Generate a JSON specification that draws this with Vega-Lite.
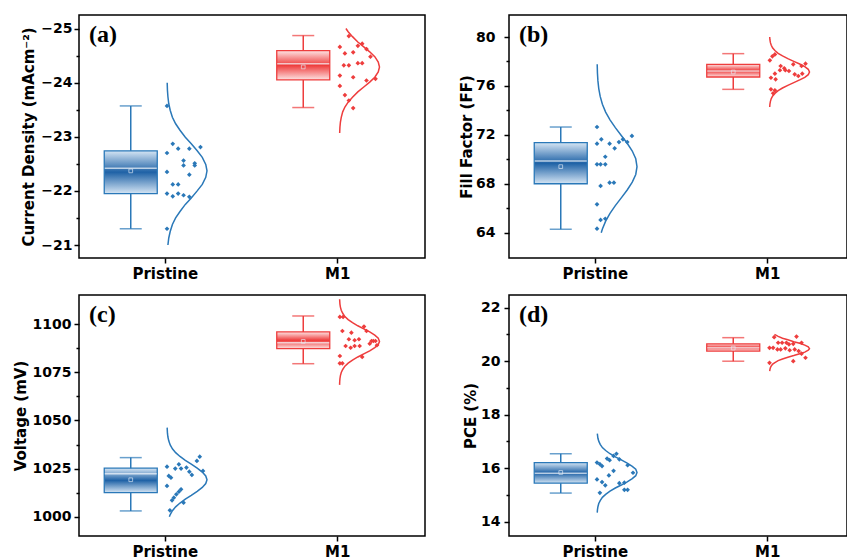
{
  "$schema": "https://vega.github.io/schema/vega-lite/v6.json",
  "padding": {"left": 12, "top": 14, "right": 0, "bottom": 0},
  "columns": 2,
  "bounds": "flush",
  "spacing": {"row": 37, "column": 84},
  "config": {
    "font": "DejaVu Sans",
    "view": {"stroke": "black", "strokeWidth": 1.5},
    "axis": {
      "domain": false, "grid": false,
      "labelFont": "DejaVu Sans", "labelFontWeight": "bold", "labelColor": "black",
      "titleFont": "DejaVu Sans", "titleFontWeight": "bold", "titleColor": "black", "titleFontSize": 15,
      "tickColor": "black", "tickWidth": 1.5
    },
    "axisX": {"labelFontSize": 15, "tickSize": 5, "labelPadding": 3, "labelAngle": 0, "title": null},
    "axisY": {"labelFontSize": 14, "labelPadding": 2, "titlePadding": 4, "format": "d"},
    "title": {"font": "Liberation Serif", "fontSize": 24, "fontWeight": "bold", "color": "black", "anchor": "start", "frame": "group", "baseline": "alphabetic", "offset": -32, "dx": 10},
    "line": {"strokeWidth": 1.5},
    "legend": {"disable": true}
  },
  "datasets": {
    "stats": [
      {"panel": "a", "group": "Pristine", "part": "whisker", "v": -23.57, "v2": -21.30},
      {"panel": "a", "group": "Pristine", "part": "cap", "v": -23.57},
      {"panel": "a", "group": "Pristine", "part": "cap", "v": -21.30},
      {"panel": "a", "group": "Pristine", "part": "box", "v": -22.74, "v2": -21.95},
      {"panel": "a", "group": "Pristine", "part": "median", "v": -22.42},
      {"panel": "a", "group": "Pristine", "part": "mean", "v": -22.37},
      {"panel": "a", "group": "M1", "part": "whisker", "v": -24.87, "v2": -23.54},
      {"panel": "a", "group": "M1", "part": "cap", "v": -24.87},
      {"panel": "a", "group": "M1", "part": "cap", "v": -23.54},
      {"panel": "a", "group": "M1", "part": "box", "v": -24.59, "v2": -24.05},
      {"panel": "a", "group": "M1", "part": "median", "v": -24.35},
      {"panel": "a", "group": "M1", "part": "mean", "v": -24.29},
      {"panel": "b", "group": "Pristine", "part": "whisker", "v": 72.64, "v2": 64.28},
      {"panel": "b", "group": "Pristine", "part": "cap", "v": 72.64},
      {"panel": "b", "group": "Pristine", "part": "cap", "v": 64.28},
      {"panel": "b", "group": "Pristine", "part": "box", "v": 71.36, "v2": 68.0},
      {"panel": "b", "group": "Pristine", "part": "median", "v": 69.86},
      {"panel": "b", "group": "Pristine", "part": "mean", "v": 69.4},
      {"panel": "b", "group": "M1", "part": "whisker", "v": 78.64, "v2": 75.72},
      {"panel": "b", "group": "M1", "part": "cap", "v": 78.64},
      {"panel": "b", "group": "M1", "part": "cap", "v": 75.72},
      {"panel": "b", "group": "M1", "part": "box", "v": 77.77, "v2": 76.73},
      {"panel": "b", "group": "M1", "part": "median", "v": 77.22},
      {"panel": "b", "group": "M1", "part": "mean", "v": 77.14},
      {"panel": "c", "group": "Pristine", "part": "whisker", "v": 1030.7, "v2": 1003.0},
      {"panel": "c", "group": "Pristine", "part": "cap", "v": 1030.7},
      {"panel": "c", "group": "Pristine", "part": "cap", "v": 1003.0},
      {"panel": "c", "group": "Pristine", "part": "box", "v": 1025.2, "v2": 1012.5},
      {"panel": "c", "group": "Pristine", "part": "median", "v": 1022.3},
      {"panel": "c", "group": "Pristine", "part": "mean", "v": 1019.2},
      {"panel": "c", "group": "M1", "part": "whisker", "v": 1104.3, "v2": 1079.5},
      {"panel": "c", "group": "M1", "part": "cap", "v": 1104.3},
      {"panel": "c", "group": "M1", "part": "cap", "v": 1079.5},
      {"panel": "c", "group": "M1", "part": "box", "v": 1096.0, "v2": 1087.3},
      {"panel": "c", "group": "M1", "part": "median", "v": 1090.4},
      {"panel": "c", "group": "M1", "part": "mean", "v": 1091.1},
      {"panel": "d", "group": "Pristine", "part": "whisker", "v": 16.54, "v2": 15.07},
      {"panel": "d", "group": "Pristine", "part": "cap", "v": 16.54},
      {"panel": "d", "group": "Pristine", "part": "cap", "v": 15.07},
      {"panel": "d", "group": "Pristine", "part": "box", "v": 16.21, "v2": 15.44},
      {"panel": "d", "group": "Pristine", "part": "median", "v": 15.81},
      {"panel": "d", "group": "Pristine", "part": "mean", "v": 15.84},
      {"panel": "d", "group": "M1", "part": "whisker", "v": 20.88, "v2": 20.0},
      {"panel": "d", "group": "M1", "part": "cap", "v": 20.88},
      {"panel": "d", "group": "M1", "part": "cap", "v": 20.0},
      {"panel": "d", "group": "M1", "part": "box", "v": 20.65, "v2": 20.38},
      {"panel": "d", "group": "M1", "part": "median", "v": 20.50},
      {"panel": "d", "group": "M1", "part": "mean", "v": 20.49}
    ],
    "pts": [
      {"panel": "a", "group": "Pristine", "v": -23.57, "jit": 0},
      {"panel": "a", "group": "Pristine", "v": -22.87, "jit": 0.16},
      {"panel": "a", "group": "Pristine", "v": -22.70, "jit": 0},
      {"panel": "a", "group": "Pristine", "v": -22.78, "jit": 0.31},
      {"panel": "a", "group": "Pristine", "v": -22.78, "jit": 0.62},
      {"panel": "a", "group": "Pristine", "v": -22.81, "jit": 0.93},
      {"panel": "a", "group": "Pristine", "v": -22.56, "jit": 0.46},
      {"panel": "a", "group": "Pristine", "v": -22.47, "jit": 0.46},
      {"panel": "a", "group": "Pristine", "v": -22.51, "jit": 0.77},
      {"panel": "a", "group": "Pristine", "v": -22.47, "jit": 0.77},
      {"panel": "a", "group": "Pristine", "v": -22.35, "jit": 0},
      {"panel": "a", "group": "Pristine", "v": -22.30, "jit": 0.62},
      {"panel": "a", "group": "Pristine", "v": -22.12, "jit": 0.16},
      {"panel": "a", "group": "Pristine", "v": -22.12, "jit": 0.31},
      {"panel": "a", "group": "Pristine", "v": -21.95, "jit": 0},
      {"panel": "a", "group": "Pristine", "v": -21.90, "jit": 0.16},
      {"panel": "a", "group": "Pristine", "v": -21.95, "jit": 0.31},
      {"panel": "a", "group": "Pristine", "v": -21.92, "jit": 0.46},
      {"panel": "a", "group": "Pristine", "v": -21.89, "jit": 0.62},
      {"panel": "a", "group": "Pristine", "v": -21.30, "jit": 0},
      {"panel": "a", "group": "M1", "v": -24.86, "jit": 0.26},
      {"panel": "a", "group": "M1", "v": -24.66, "jit": 0.01},
      {"panel": "a", "group": "M1", "v": -24.68, "jit": 0.51},
      {"panel": "a", "group": "M1", "v": -24.72, "jit": 0.63},
      {"panel": "a", "group": "M1", "v": -24.62, "jit": 0.75},
      {"panel": "a", "group": "M1", "v": -24.54, "jit": 0.15},
      {"panel": "a", "group": "M1", "v": -24.56, "jit": 0.38},
      {"panel": "a", "group": "M1", "v": -24.48, "jit": 0.86},
      {"panel": "a", "group": "M1", "v": -24.32, "jit": 0.12},
      {"panel": "a", "group": "M1", "v": -24.32, "jit": 0.26},
      {"panel": "a", "group": "M1", "v": -24.36, "jit": 0.51},
      {"panel": "a", "group": "M1", "v": -24.36, "jit": 0.63},
      {"panel": "a", "group": "M1", "v": -24.13, "jit": 0.01},
      {"panel": "a", "group": "M1", "v": -24.10, "jit": 0.38},
      {"panel": "a", "group": "M1", "v": -24.04, "jit": 0.75},
      {"panel": "a", "group": "M1", "v": -24.07, "jit": 1.0},
      {"panel": "a", "group": "M1", "v": -23.94, "jit": 0.01},
      {"panel": "a", "group": "M1", "v": -23.77, "jit": 0.15},
      {"panel": "a", "group": "M1", "v": -23.67, "jit": 0.26},
      {"panel": "a", "group": "M1", "v": -23.53, "jit": 0.38},
      {"panel": "b", "group": "Pristine", "v": 72.64, "jit": 0},
      {"panel": "b", "group": "Pristine", "v": 71.28, "jit": 0},
      {"panel": "b", "group": "Pristine", "v": 71.63, "jit": 0.12},
      {"panel": "b", "group": "Pristine", "v": 71.28, "jit": 0.35},
      {"panel": "b", "group": "Pristine", "v": 70.90, "jit": 0.49},
      {"panel": "b", "group": "Pristine", "v": 71.41, "jit": 0.61},
      {"panel": "b", "group": "Pristine", "v": 71.63, "jit": 0.72},
      {"panel": "b", "group": "Pristine", "v": 71.41, "jit": 0.84},
      {"panel": "b", "group": "Pristine", "v": 71.91, "jit": 0.97},
      {"panel": "b", "group": "Pristine", "v": 70.21, "jit": 0.23},
      {"panel": "b", "group": "Pristine", "v": 69.59, "jit": 0},
      {"panel": "b", "group": "Pristine", "v": 69.59, "jit": 0.10},
      {"panel": "b", "group": "Pristine", "v": 69.59, "jit": 0.23},
      {"panel": "b", "group": "Pristine", "v": 68.09, "jit": 0.35},
      {"panel": "b", "group": "Pristine", "v": 68.09, "jit": 0.47},
      {"panel": "b", "group": "Pristine", "v": 67.82, "jit": 0.10},
      {"panel": "b", "group": "Pristine", "v": 66.32, "jit": 0},
      {"panel": "b", "group": "Pristine", "v": 65.04, "jit": 0.10},
      {"panel": "b", "group": "Pristine", "v": 65.14, "jit": 0.23},
      {"panel": "b", "group": "Pristine", "v": 64.33, "jit": 0},
      {"panel": "b", "group": "M1", "v": 78.58, "jit": 0.15},
      {"panel": "b", "group": "M1", "v": 78.42, "jit": 0.08},
      {"panel": "b", "group": "M1", "v": 78.09, "jit": 0.01},
      {"panel": "b", "group": "M1", "v": 77.77, "jit": 0.66},
      {"panel": "b", "group": "M1", "v": 77.63, "jit": 0.89},
      {"panel": "b", "group": "M1", "v": 77.82, "jit": 1.0},
      {"panel": "b", "group": "M1", "v": 77.63, "jit": 0.31},
      {"panel": "b", "group": "M1", "v": 77.44, "jit": 0.41},
      {"panel": "b", "group": "M1", "v": 77.28, "jit": 0.29},
      {"panel": "b", "group": "M1", "v": 77.28, "jit": 0.44},
      {"panel": "b", "group": "M1", "v": 77.22, "jit": 0.54},
      {"panel": "b", "group": "M1", "v": 77.00, "jit": 0.15},
      {"panel": "b", "group": "M1", "v": 76.67, "jit": 0.04},
      {"panel": "b", "group": "M1", "v": 76.54, "jit": 0.17},
      {"panel": "b", "group": "M1", "v": 76.95, "jit": 0.70},
      {"panel": "b", "group": "M1", "v": 76.81, "jit": 0.80},
      {"panel": "b", "group": "M1", "v": 77.00, "jit": 0.91},
      {"panel": "b", "group": "M1", "v": 75.72, "jit": 0.04},
      {"panel": "b", "group": "M1", "v": 75.64, "jit": 0.15},
      {"panel": "b", "group": "M1", "v": 75.40, "jit": 0.10},
      {"panel": "c", "group": "Pristine", "v": 1031.2, "jit": 0.91},
      {"panel": "c", "group": "Pristine", "v": 1029.0, "jit": 0.83},
      {"panel": "c", "group": "Pristine", "v": 1027.2, "jit": 0.33},
      {"panel": "c", "group": "Pristine", "v": 1026.0, "jit": 0},
      {"panel": "c", "group": "Pristine", "v": 1025.0, "jit": 0.23},
      {"panel": "c", "group": "Pristine", "v": 1025.0, "jit": 0.39},
      {"panel": "c", "group": "Pristine", "v": 1025.5, "jit": 0.54},
      {"panel": "c", "group": "Pristine", "v": 1023.4, "jit": 0.62},
      {"panel": "c", "group": "Pristine", "v": 1021.7, "jit": 0.69},
      {"panel": "c", "group": "Pristine", "v": 1023.8, "jit": 1.0},
      {"panel": "c", "group": "Pristine", "v": 1021.2, "jit": 0.05},
      {"panel": "c", "group": "Pristine", "v": 1020.3, "jit": 0.11},
      {"panel": "c", "group": "Pristine", "v": 1016.0, "jit": 0},
      {"panel": "c", "group": "Pristine", "v": 1014.2, "jit": 0.39},
      {"panel": "c", "group": "Pristine", "v": 1013.0, "jit": 0.33},
      {"panel": "c", "group": "Pristine", "v": 1011.6, "jit": 0.26},
      {"panel": "c", "group": "Pristine", "v": 1009.9, "jit": 0.19},
      {"panel": "c", "group": "Pristine", "v": 1008.5, "jit": 0.14},
      {"panel": "c", "group": "Pristine", "v": 1007.3, "jit": 0.46},
      {"panel": "c", "group": "Pristine", "v": 1003.3, "jit": 0.08},
      {"panel": "c", "group": "M1", "v": 1103.8, "jit": 0.01},
      {"panel": "c", "group": "M1", "v": 1103.8, "jit": 0.10},
      {"panel": "c", "group": "M1", "v": 1096.5, "jit": 0.08},
      {"panel": "c", "group": "M1", "v": 1095.6, "jit": 0.33},
      {"panel": "c", "group": "M1", "v": 1098.8, "jit": 0.68},
      {"panel": "c", "group": "M1", "v": 1096.5, "jit": 0.75},
      {"panel": "c", "group": "M1", "v": 1092.2, "jit": 0.26},
      {"panel": "c", "group": "M1", "v": 1091.7, "jit": 0.42},
      {"panel": "c", "group": "M1", "v": 1092.2, "jit": 0.54},
      {"panel": "c", "group": "M1", "v": 1091.3, "jit": 0.89},
      {"panel": "c", "group": "M1", "v": 1091.3, "jit": 0.94},
      {"panel": "c", "group": "M1", "v": 1091.3, "jit": 1.0},
      {"panel": "c", "group": "M1", "v": 1089.9, "jit": 0.84},
      {"panel": "c", "group": "M1", "v": 1088.7, "jit": 0.17},
      {"panel": "c", "group": "M1", "v": 1087.8, "jit": 0.31},
      {"panel": "c", "group": "M1", "v": 1088.7, "jit": 0.42},
      {"panel": "c", "group": "M1", "v": 1088.7, "jit": 0.56},
      {"panel": "c", "group": "M1", "v": 1089.1, "jit": 1.04},
      {"panel": "c", "group": "M1", "v": 1083.5, "jit": 0.01},
      {"panel": "c", "group": "M1", "v": 1083.0, "jit": 0.63},
      {"panel": "c", "group": "M1", "v": 1079.7, "jit": 0.01},
      {"panel": "c", "group": "M1", "v": 1079.7, "jit": 0.08},
      {"panel": "d", "group": "Pristine", "v": 16.54, "jit": 0.54},
      {"panel": "d", "group": "Pristine", "v": 16.46, "jit": 0.46},
      {"panel": "d", "group": "Pristine", "v": 16.36, "jit": 0.28},
      {"panel": "d", "group": "Pristine", "v": 16.30, "jit": 0.35},
      {"panel": "d", "group": "Pristine", "v": 16.21, "jit": 0},
      {"panel": "d", "group": "Pristine", "v": 16.15, "jit": 0.08},
      {"panel": "d", "group": "Pristine", "v": 16.08, "jit": 0.14},
      {"panel": "d", "group": "Pristine", "v": 16.33, "jit": 0.62},
      {"panel": "d", "group": "Pristine", "v": 16.11, "jit": 0.85},
      {"panel": "d", "group": "Pristine", "v": 15.90, "jit": 0.46},
      {"panel": "d", "group": "Pristine", "v": 15.83, "jit": 1.0},
      {"panel": "d", "group": "Pristine", "v": 15.73, "jit": 0.33},
      {"panel": "d", "group": "Pristine", "v": 15.58, "jit": 0},
      {"panel": "d", "group": "Pristine", "v": 15.48, "jit": 0.14},
      {"panel": "d", "group": "Pristine", "v": 15.36, "jit": 0.23},
      {"panel": "d", "group": "Pristine", "v": 15.44, "jit": 0.62},
      {"panel": "d", "group": "Pristine", "v": 15.46, "jit": 0.76},
      {"panel": "d", "group": "Pristine", "v": 15.08, "jit": 0.08},
      {"panel": "d", "group": "Pristine", "v": 15.19, "jit": 0.76},
      {"panel": "d", "group": "Pristine", "v": 15.19, "jit": 0.85},
      {"panel": "d", "group": "M1", "v": 20.90, "jit": 0.13},
      {"panel": "d", "group": "M1", "v": 20.92, "jit": 0.75},
      {"panel": "d", "group": "M1", "v": 20.69, "jit": 0.24},
      {"panel": "d", "group": "M1", "v": 20.69, "jit": 0.35},
      {"panel": "d", "group": "M1", "v": 20.69, "jit": 0.47},
      {"panel": "d", "group": "M1", "v": 20.63, "jit": 0.54},
      {"panel": "d", "group": "M1", "v": 20.65, "jit": 0.66},
      {"panel": "d", "group": "M1", "v": 20.69, "jit": 0.89},
      {"panel": "d", "group": "M1", "v": 20.50, "jit": 0},
      {"panel": "d", "group": "M1", "v": 20.50, "jit": 0.10},
      {"panel": "d", "group": "M1", "v": 20.44, "jit": 0.22},
      {"panel": "d", "group": "M1", "v": 20.44, "jit": 0.31},
      {"panel": "d", "group": "M1", "v": 20.48, "jit": 0.44},
      {"panel": "d", "group": "M1", "v": 20.41, "jit": 0.56},
      {"panel": "d", "group": "M1", "v": 20.44, "jit": 0.70},
      {"panel": "d", "group": "M1", "v": 20.38, "jit": 0.81},
      {"panel": "d", "group": "M1", "v": 20.28, "jit": 0.89},
      {"panel": "d", "group": "M1", "v": 20.13, "jit": 1.0},
      {"panel": "d", "group": "M1", "v": 19.94, "jit": 0},
      {"panel": "d", "group": "M1", "v": 20.00, "jit": 0.66}
    ],
    "curve": [
      {"panel": "a", "group": "Pristine", "v": -24.0, "d": 0.005},
      {"panel": "a", "group": "Pristine", "v": -23.86, "d": 0.011},
      {"panel": "a", "group": "Pristine", "v": -23.74, "d": 0.023},
      {"panel": "a", "group": "Pristine", "v": -23.61, "d": 0.044},
      {"panel": "a", "group": "Pristine", "v": -23.49, "d": 0.080},
      {"panel": "a", "group": "Pristine", "v": -23.36, "d": 0.135},
      {"panel": "a", "group": "Pristine", "v": -23.24, "d": 0.216},
      {"panel": "a", "group": "Pristine", "v": -23.12, "d": 0.325},
      {"panel": "a", "group": "Pristine", "v": -22.99, "d": 0.458},
      {"panel": "a", "group": "Pristine", "v": -22.87, "d": 0.607},
      {"panel": "a", "group": "Pristine", "v": -22.74, "d": 0.755},
      {"panel": "a", "group": "Pristine", "v": -22.62, "d": 0.882},
      {"panel": "a", "group": "Pristine", "v": -22.49, "d": 0.969},
      {"panel": "a", "group": "Pristine", "v": -22.37, "d": 1.0},
      {"panel": "a", "group": "Pristine", "v": -22.25, "d": 0.969},
      {"panel": "a", "group": "Pristine", "v": -22.12, "d": 0.882},
      {"panel": "a", "group": "Pristine", "v": -22.00, "d": 0.755},
      {"panel": "a", "group": "Pristine", "v": -21.87, "d": 0.607},
      {"panel": "a", "group": "Pristine", "v": -21.75, "d": 0.458},
      {"panel": "a", "group": "Pristine", "v": -21.62, "d": 0.325},
      {"panel": "a", "group": "Pristine", "v": -21.50, "d": 0.216},
      {"panel": "a", "group": "Pristine", "v": -21.38, "d": 0.135},
      {"panel": "a", "group": "Pristine", "v": -21.25, "d": 0.080},
      {"panel": "a", "group": "Pristine", "v": -21.13, "d": 0.044},
      {"panel": "a", "group": "Pristine", "v": -21.0, "d": 0.023},
      {"panel": "a", "group": "M1", "v": -25.0, "d": 0.161},
      {"panel": "a", "group": "M1", "v": -24.94, "d": 0.216},
      {"panel": "a", "group": "M1", "v": -24.85, "d": 0.325},
      {"panel": "a", "group": "M1", "v": -24.75, "d": 0.458},
      {"panel": "a", "group": "M1", "v": -24.66, "d": 0.607},
      {"panel": "a", "group": "M1", "v": -24.57, "d": 0.755},
      {"panel": "a", "group": "M1", "v": -24.48, "d": 0.882},
      {"panel": "a", "group": "M1", "v": -24.38, "d": 0.969},
      {"panel": "a", "group": "M1", "v": -24.29, "d": 1.0},
      {"panel": "a", "group": "M1", "v": -24.20, "d": 0.969},
      {"panel": "a", "group": "M1", "v": -24.10, "d": 0.882},
      {"panel": "a", "group": "M1", "v": -24.01, "d": 0.755},
      {"panel": "a", "group": "M1", "v": -23.92, "d": 0.607},
      {"panel": "a", "group": "M1", "v": -23.83, "d": 0.458},
      {"panel": "a", "group": "M1", "v": -23.73, "d": 0.325},
      {"panel": "a", "group": "M1", "v": -23.64, "d": 0.216},
      {"panel": "a", "group": "M1", "v": -23.55, "d": 0.135},
      {"panel": "a", "group": "M1", "v": -23.46, "d": 0.080},
      {"panel": "a", "group": "M1", "v": -23.36, "d": 0.044},
      {"panel": "a", "group": "M1", "v": -23.27, "d": 0.023},
      {"panel": "a", "group": "M1", "v": -23.18, "d": 0.011},
      {"panel": "a", "group": "M1", "v": -23.07, "d": 0.004},
      {"panel": "b", "group": "Pristine", "v": 64.0, "d": 0.106},
      {"panel": "b", "group": "Pristine", "v": 64.3, "d": 0.135},
      {"panel": "b", "group": "Pristine", "v": 64.94, "d": 0.216},
      {"panel": "b", "group": "Pristine", "v": 65.58, "d": 0.325},
      {"panel": "b", "group": "Pristine", "v": 66.21, "d": 0.458},
      {"panel": "b", "group": "Pristine", "v": 66.85, "d": 0.607},
      {"panel": "b", "group": "Pristine", "v": 67.49, "d": 0.755},
      {"panel": "b", "group": "Pristine", "v": 68.13, "d": 0.882},
      {"panel": "b", "group": "Pristine", "v": 68.76, "d": 0.969},
      {"panel": "b", "group": "Pristine", "v": 69.4, "d": 1.0},
      {"panel": "b", "group": "Pristine", "v": 70.04, "d": 0.969},
      {"panel": "b", "group": "Pristine", "v": 70.68, "d": 0.882},
      {"panel": "b", "group": "Pristine", "v": 71.31, "d": 0.755},
      {"panel": "b", "group": "Pristine", "v": 71.95, "d": 0.607},
      {"panel": "b", "group": "Pristine", "v": 72.59, "d": 0.458},
      {"panel": "b", "group": "Pristine", "v": 73.23, "d": 0.325},
      {"panel": "b", "group": "Pristine", "v": 73.86, "d": 0.216},
      {"panel": "b", "group": "Pristine", "v": 74.5, "d": 0.135},
      {"panel": "b", "group": "Pristine", "v": 75.14, "d": 0.080},
      {"panel": "b", "group": "Pristine", "v": 75.78, "d": 0.044},
      {"panel": "b", "group": "Pristine", "v": 76.41, "d": 0.023},
      {"panel": "b", "group": "Pristine", "v": 77.05, "d": 0.011},
      {"panel": "b", "group": "Pristine", "v": 77.77, "d": 0.005},
      {"panel": "b", "group": "M1", "v": 74.28, "d": 0.005},
      {"panel": "b", "group": "M1", "v": 74.52, "d": 0.011},
      {"panel": "b", "group": "M1", "v": 74.74, "d": 0.023},
      {"panel": "b", "group": "M1", "v": 74.96, "d": 0.044},
      {"panel": "b", "group": "M1", "v": 75.18, "d": 0.080},
      {"panel": "b", "group": "M1", "v": 75.39, "d": 0.135},
      {"panel": "b", "group": "M1", "v": 75.61, "d": 0.216},
      {"panel": "b", "group": "M1", "v": 75.83, "d": 0.325},
      {"panel": "b", "group": "M1", "v": 76.05, "d": 0.458},
      {"panel": "b", "group": "M1", "v": 76.27, "d": 0.607},
      {"panel": "b", "group": "M1", "v": 76.49, "d": 0.755},
      {"panel": "b", "group": "M1", "v": 76.70, "d": 0.882},
      {"panel": "b", "group": "M1", "v": 76.92, "d": 0.969},
      {"panel": "b", "group": "M1", "v": 77.14, "d": 1.0},
      {"panel": "b", "group": "M1", "v": 77.36, "d": 0.969},
      {"panel": "b", "group": "M1", "v": 77.58, "d": 0.882},
      {"panel": "b", "group": "M1", "v": 77.79, "d": 0.755},
      {"panel": "b", "group": "M1", "v": 78.01, "d": 0.607},
      {"panel": "b", "group": "M1", "v": 78.23, "d": 0.458},
      {"panel": "b", "group": "M1", "v": 78.45, "d": 0.325},
      {"panel": "b", "group": "M1", "v": 78.67, "d": 0.216},
      {"panel": "b", "group": "M1", "v": 78.89, "d": 0.135},
      {"panel": "b", "group": "M1", "v": 79.10, "d": 0.080},
      {"panel": "b", "group": "M1", "v": 79.32, "d": 0.044},
      {"panel": "b", "group": "M1", "v": 79.54, "d": 0.023},
      {"panel": "b", "group": "M1", "v": 79.76, "d": 0.011},
      {"panel": "b", "group": "M1", "v": 80.0, "d": 0.005},
      {"panel": "c", "group": "Pristine", "v": 1000.0, "d": 0.059},
      {"panel": "c", "group": "Pristine", "v": 1001.1, "d": 0.080},
      {"panel": "c", "group": "Pristine", "v": 1003.1, "d": 0.135},
      {"panel": "c", "group": "Pristine", "v": 1005.1, "d": 0.216},
      {"panel": "c", "group": "Pristine", "v": 1007.1, "d": 0.325},
      {"panel": "c", "group": "Pristine", "v": 1009.1, "d": 0.458},
      {"panel": "c", "group": "Pristine", "v": 1011.1, "d": 0.607},
      {"panel": "c", "group": "Pristine", "v": 1013.2, "d": 0.755},
      {"panel": "c", "group": "Pristine", "v": 1015.2, "d": 0.882},
      {"panel": "c", "group": "Pristine", "v": 1017.2, "d": 0.969},
      {"panel": "c", "group": "Pristine", "v": 1019.2, "d": 1.0},
      {"panel": "c", "group": "Pristine", "v": 1021.2, "d": 0.969},
      {"panel": "c", "group": "Pristine", "v": 1023.2, "d": 0.882},
      {"panel": "c", "group": "Pristine", "v": 1025.2, "d": 0.755},
      {"panel": "c", "group": "Pristine", "v": 1027.3, "d": 0.607},
      {"panel": "c", "group": "Pristine", "v": 1029.3, "d": 0.458},
      {"panel": "c", "group": "Pristine", "v": 1031.3, "d": 0.325},
      {"panel": "c", "group": "Pristine", "v": 1033.3, "d": 0.216},
      {"panel": "c", "group": "Pristine", "v": 1035.3, "d": 0.135},
      {"panel": "c", "group": "Pristine", "v": 1037.3, "d": 0.080},
      {"panel": "c", "group": "Pristine", "v": 1039.4, "d": 0.044},
      {"panel": "c", "group": "Pristine", "v": 1041.4, "d": 0.023},
      {"panel": "c", "group": "Pristine", "v": 1043.4, "d": 0.011},
      {"panel": "c", "group": "Pristine", "v": 1046.3, "d": 0.004},
      {"panel": "c", "group": "M1", "v": 1068.5, "d": 0.002},
      {"panel": "c", "group": "M1", "v": 1070.1, "d": 0.005},
      {"panel": "c", "group": "M1", "v": 1071.7, "d": 0.011},
      {"panel": "c", "group": "M1", "v": 1073.3, "d": 0.023},
      {"panel": "c", "group": "M1", "v": 1074.9, "d": 0.044},
      {"panel": "c", "group": "M1", "v": 1076.5, "d": 0.080},
      {"panel": "c", "group": "M1", "v": 1078.2, "d": 0.135},
      {"panel": "c", "group": "M1", "v": 1079.8, "d": 0.216},
      {"panel": "c", "group": "M1", "v": 1081.4, "d": 0.325},
      {"panel": "c", "group": "M1", "v": 1083.0, "d": 0.458},
      {"panel": "c", "group": "M1", "v": 1084.6, "d": 0.607},
      {"panel": "c", "group": "M1", "v": 1086.2, "d": 0.755},
      {"panel": "c", "group": "M1", "v": 1087.9, "d": 0.882},
      {"panel": "c", "group": "M1", "v": 1089.5, "d": 0.969},
      {"panel": "c", "group": "M1", "v": 1091.1, "d": 1.0},
      {"panel": "c", "group": "M1", "v": 1092.7, "d": 0.969},
      {"panel": "c", "group": "M1", "v": 1094.3, "d": 0.882},
      {"panel": "c", "group": "M1", "v": 1096.0, "d": 0.755},
      {"panel": "c", "group": "M1", "v": 1097.6, "d": 0.607},
      {"panel": "c", "group": "M1", "v": 1099.2, "d": 0.458},
      {"panel": "c", "group": "M1", "v": 1100.8, "d": 0.325},
      {"panel": "c", "group": "M1", "v": 1102.4, "d": 0.216},
      {"panel": "c", "group": "M1", "v": 1104.0, "d": 0.135},
      {"panel": "c", "group": "M1", "v": 1105.7, "d": 0.080},
      {"panel": "c", "group": "M1", "v": 1107.3, "d": 0.044},
      {"panel": "c", "group": "M1", "v": 1108.9, "d": 0.023},
      {"panel": "c", "group": "M1", "v": 1110.5, "d": 0.011},
      {"panel": "c", "group": "M1", "v": 1113.0, "d": 0.003},
      {"panel": "d", "group": "Pristine", "v": 14.34, "d": 0.006},
      {"panel": "d", "group": "Pristine", "v": 14.44, "d": 0.011},
      {"panel": "d", "group": "Pristine", "v": 14.56, "d": 0.023},
      {"panel": "d", "group": "Pristine", "v": 14.68, "d": 0.044},
      {"panel": "d", "group": "Pristine", "v": 14.79, "d": 0.080},
      {"panel": "d", "group": "Pristine", "v": 14.91, "d": 0.135},
      {"panel": "d", "group": "Pristine", "v": 15.02, "d": 0.216},
      {"panel": "d", "group": "Pristine", "v": 15.14, "d": 0.325},
      {"panel": "d", "group": "Pristine", "v": 15.26, "d": 0.458},
      {"panel": "d", "group": "Pristine", "v": 15.37, "d": 0.607},
      {"panel": "d", "group": "Pristine", "v": 15.49, "d": 0.755},
      {"panel": "d", "group": "Pristine", "v": 15.61, "d": 0.882},
      {"panel": "d", "group": "Pristine", "v": 15.72, "d": 0.969},
      {"panel": "d", "group": "Pristine", "v": 15.84, "d": 1.0},
      {"panel": "d", "group": "Pristine", "v": 15.96, "d": 0.969},
      {"panel": "d", "group": "Pristine", "v": 16.07, "d": 0.882},
      {"panel": "d", "group": "Pristine", "v": 16.19, "d": 0.755},
      {"panel": "d", "group": "Pristine", "v": 16.31, "d": 0.607},
      {"panel": "d", "group": "Pristine", "v": 16.42, "d": 0.458},
      {"panel": "d", "group": "Pristine", "v": 16.54, "d": 0.325},
      {"panel": "d", "group": "Pristine", "v": 16.66, "d": 0.216},
      {"panel": "d", "group": "Pristine", "v": 16.77, "d": 0.135},
      {"panel": "d", "group": "Pristine", "v": 16.89, "d": 0.080},
      {"panel": "d", "group": "Pristine", "v": 17.01, "d": 0.044},
      {"panel": "d", "group": "Pristine", "v": 17.12, "d": 0.023},
      {"panel": "d", "group": "Pristine", "v": 17.29, "d": 0.008},
      {"panel": "d", "group": "M1", "v": 19.63, "d": 0.005},
      {"panel": "d", "group": "M1", "v": 19.69, "d": 0.011},
      {"panel": "d", "group": "M1", "v": 19.76, "d": 0.023},
      {"panel": "d", "group": "M1", "v": 19.82, "d": 0.044},
      {"panel": "d", "group": "M1", "v": 19.89, "d": 0.080},
      {"panel": "d", "group": "M1", "v": 19.95, "d": 0.135},
      {"panel": "d", "group": "M1", "v": 20.02, "d": 0.216},
      {"panel": "d", "group": "M1", "v": 20.08, "d": 0.325},
      {"panel": "d", "group": "M1", "v": 20.15, "d": 0.458},
      {"panel": "d", "group": "M1", "v": 20.21, "d": 0.607},
      {"panel": "d", "group": "M1", "v": 20.28, "d": 0.755},
      {"panel": "d", "group": "M1", "v": 20.34, "d": 0.882},
      {"panel": "d", "group": "M1", "v": 20.41, "d": 0.969},
      {"panel": "d", "group": "M1", "v": 20.47, "d": 1.0},
      {"panel": "d", "group": "M1", "v": 20.54, "d": 0.969},
      {"panel": "d", "group": "M1", "v": 20.60, "d": 0.882},
      {"panel": "d", "group": "M1", "v": 20.67, "d": 0.755},
      {"panel": "d", "group": "M1", "v": 20.73, "d": 0.607},
      {"panel": "d", "group": "M1", "v": 20.80, "d": 0.458},
      {"panel": "d", "group": "M1", "v": 20.86, "d": 0.325},
      {"panel": "d", "group": "M1", "v": 20.93, "d": 0.216},
      {"panel": "d", "group": "M1", "v": 21.0, "d": 0.125}
    ]
  },
  "concat": [
    {
      "width": 346, "height": 243,
      "title": {"text": "(a)"},
      "encoding": {
        "x": {"field": "group", "type": "nominal", "scale": {"domain": ["Pristine", "M1"], "range": [0, 345], "paddingInner": 0, "paddingOuter": 0}},
        "y": {"field": "v", "type": "quantitative",
              "scale": {"domain": [-25.25, -20.76], "reverse": true},
              "axis": {"title": "Current Density (mAcm⁻²)", "values": [-25, -24.5, -24, -23.5, -23, -22.5, -22, -21.5, -21],
                       "labelExpr": "datum.value % 1 === 0 ? datum.label : ''",
                       "tickSize": {"condition": {"test": "datum.value % 1 !== 0", "value": 3}, "value": 5}}},
        "color": {"field": "group", "type": "nominal", "scale": {"domain": ["Pristine", "M1"], "range": ["#2a78b8", "#ee3d3d"]}}
      },
      "resolve": {"scale": {"xOffset": "independent"}},
      "layer": [
        {"data": {"name": "stats"}, "transform": [{"filter": "datum.panel === 'a' && datum.part === 'whisker'"}],
         "mark": {"type": "rule", "strokeWidth": 1.5, "xOffset": -34.5}, "encoding": {"y2": {"field": "v2"}}},
        {"data": {"name": "stats"}, "transform": [{"filter": "datum.panel === 'a' && datum.part === 'cap'"}],
         "mark": {"type": "tick", "orient": "horizontal", "size": 22, "thickness": 1.5, "xOffset": -34.5}},
        {"data": {"name": "stats"}, "transform": [{"filter": "datum.panel === 'a' && datum.part === 'box'"}],
         "mark": {"type": "bar", "width": 53, "xOffset": -34.5, "strokeWidth": 1.3},
         "encoding": {
           "y2": {"field": "v2"},
           "color": {"condition": {"test": "datum.group === 'M1'", "value": {"gradient": "linear", "x1": 0, "y1": 0, "x2": 0, "y2": 1, "stops": [{"offset": 0, "color": "#fde3e3"}, {"offset": 0.5, "color": "#ef3c3c"}, {"offset": 1, "color": "#fde3e3"}]}},
                     "value": {"gradient": "linear", "x1": 0, "y1": 0, "x2": 0, "y2": 1, "stops": [{"offset": 0, "color": "#d5e5f4"}, {"offset": 0.5, "color": "#1f62a6"}, {"offset": 1, "color": "#d5e5f4"}]}},
           "stroke": {"condition": {"test": "datum.group === 'M1'", "value": "#ee3d3d"}, "value": "#2a78b8"}}},
        {"data": {"name": "stats"}, "transform": [{"filter": "datum.panel === 'a' && datum.part === 'median'"}],
         "mark": {"type": "tick", "orient": "horizontal", "size": 52, "thickness": 1.5, "xOffset": -34.5}, "encoding": {"color": {"value": "#f4f8fc"}}},
        {"data": {"name": "stats"}, "transform": [{"filter": "datum.panel === 'a' && datum.part === 'mean'"}],
         "mark": {"type": "point", "shape": "square", "size": 14, "filled": false, "strokeWidth": 0.8, "xOffset": -34.5, "opacity": 0.8}, "encoding": {"color": {"value": "#e6eef7"}}},
        {"data": {"name": "pts"}, "transform": [{"filter": "datum.panel === 'a'"}],
         "mark": {"type": "point", "shape": "diamond", "filled": true, "size": 22, "opacity": 1},
         "encoding": {"xOffset": {"field": "jit", "type": "quantitative", "scale": {"domain": [0, 1], "range": [88, 124]}}}},
        {"data": {"name": "curve"}, "transform": [{"filter": "datum.panel === 'a'"}],
         "mark": {"type": "line", "strokeWidth": 1.5},
         "encoding": {"xOffset": {"field": "d", "type": "quantitative", "scale": {"domain": [0, 1], "range": [88, 128]}}, "order": {"field": "v", "type": "quantitative"}}}
      ]
    },
    {
      "width": 338, "height": 243,
      "title": {"text": "(b)"},
      "encoding": {
        "x": {"field": "group", "type": "nominal", "scale": {"domain": ["Pristine", "M1"], "range": [0, 345], "paddingInner": 0, "paddingOuter": 0}},
        "y": {"field": "v", "type": "quantitative",
              "scale": {"domain": [61.93, 81.8]},
              "axis": {"title": "Fill Factor (FF)", "values": [64, 66, 68, 70, 72, 74, 76, 78, 80], "labelPadding": 9, "titlePadding": 1,
                       "labelExpr": "datum.value % 4 === 0 ? datum.label : ''",
                       "tickSize": {"condition": {"test": "datum.value % 4 !== 0", "value": 3}, "value": 5}}},
        "color": {"field": "group", "type": "nominal", "scale": {"domain": ["Pristine", "M1"], "range": ["#2a78b8", "#ee3d3d"]}}
      },
      "resolve": {"scale": {"xOffset": "independent"}},
      "layer": [
        {"data": {"name": "stats"}, "transform": [{"filter": "datum.panel === 'b' && datum.part === 'whisker'"}],
         "mark": {"type": "rule", "strokeWidth": 1.5, "xOffset": -34.5}, "encoding": {"y2": {"field": "v2"}}},
        {"data": {"name": "stats"}, "transform": [{"filter": "datum.panel === 'b' && datum.part === 'cap'"}],
         "mark": {"type": "tick", "orient": "horizontal", "size": 22, "thickness": 1.5, "xOffset": -34.5}},
        {"data": {"name": "stats"}, "transform": [{"filter": "datum.panel === 'b' && datum.part === 'box'"}],
         "mark": {"type": "bar", "width": 53, "xOffset": -34.5, "strokeWidth": 1.3},
         "encoding": {
           "y2": {"field": "v2"},
           "color": {"condition": {"test": "datum.group === 'M1'", "value": {"gradient": "linear", "x1": 0, "y1": 0, "x2": 0, "y2": 1, "stops": [{"offset": 0, "color": "#fde3e3"}, {"offset": 0.5, "color": "#ef3c3c"}, {"offset": 1, "color": "#fde3e3"}]}},
                     "value": {"gradient": "linear", "x1": 0, "y1": 0, "x2": 0, "y2": 1, "stops": [{"offset": 0, "color": "#d5e5f4"}, {"offset": 0.5, "color": "#1f62a6"}, {"offset": 1, "color": "#d5e5f4"}]}},
           "stroke": {"condition": {"test": "datum.group === 'M1'", "value": "#ee3d3d"}, "value": "#2a78b8"}}},
        {"data": {"name": "stats"}, "transform": [{"filter": "datum.panel === 'b' && datum.part === 'median'"}],
         "mark": {"type": "tick", "orient": "horizontal", "size": 52, "thickness": 1.5, "xOffset": -34.5}, "encoding": {"color": {"value": "#f4f8fc"}}},
        {"data": {"name": "stats"}, "transform": [{"filter": "datum.panel === 'b' && datum.part === 'mean'"}],
         "mark": {"type": "point", "shape": "square", "size": 14, "filled": false, "strokeWidth": 0.8, "xOffset": -34.5, "opacity": 0.8}, "encoding": {"color": {"value": "#e6eef7"}}},
        {"data": {"name": "pts"}, "transform": [{"filter": "datum.panel === 'b'"}],
         "mark": {"type": "point", "shape": "diamond", "filled": true, "size": 22, "opacity": 1},
         "encoding": {"xOffset": {"field": "jit", "type": "quantitative", "scale": {"domain": [0, 1], "range": [88, 124]}}}},
        {"data": {"name": "curve"}, "transform": [{"filter": "datum.panel === 'b'"}],
         "mark": {"type": "line", "strokeWidth": 1.5},
         "encoding": {"xOffset": {"field": "d", "type": "quantitative", "scale": {"domain": [0, 1], "range": [88, 128]}}, "order": {"field": "v", "type": "quantitative"}}}
      ]
    },
    {
      "width": 346, "height": 241,
      "title": {"text": "(c)"},
      "encoding": {
        "x": {"field": "group", "type": "nominal", "scale": {"domain": ["Pristine", "M1"], "range": [0, 345], "paddingInner": 0, "paddingOuter": 0}},
        "y": {"field": "v", "type": "quantitative",
              "scale": {"domain": [989.97, 1115.2]},
              "axis": {"title": "Voltage (mV)", "values": [1000, 1012.5, 1025, 1037.5, 1050, 1062.5, 1075, 1087.5, 1100], "labelPadding": 3,
                       "labelExpr": "datum.value % 25 === 0 ? datum.label : ''",
                       "tickSize": {"condition": {"test": "datum.value % 25 !== 0", "value": 3}, "value": 5}}},
        "color": {"field": "group", "type": "nominal", "scale": {"domain": ["Pristine", "M1"], "range": ["#2a78b8", "#ee3d3d"]}}
      },
      "resolve": {"scale": {"xOffset": "independent"}},
      "layer": [
        {"data": {"name": "stats"}, "transform": [{"filter": "datum.panel === 'c' && datum.part === 'whisker'"}],
         "mark": {"type": "rule", "strokeWidth": 1.5, "xOffset": -34.5}, "encoding": {"y2": {"field": "v2"}}},
        {"data": {"name": "stats"}, "transform": [{"filter": "datum.panel === 'c' && datum.part === 'cap'"}],
         "mark": {"type": "tick", "orient": "horizontal", "size": 22, "thickness": 1.5, "xOffset": -34.5}},
        {"data": {"name": "stats"}, "transform": [{"filter": "datum.panel === 'c' && datum.part === 'box'"}],
         "mark": {"type": "bar", "width": 53, "xOffset": -34.5, "strokeWidth": 1.3},
         "encoding": {
           "y2": {"field": "v2"},
           "color": {"condition": {"test": "datum.group === 'M1'", "value": {"gradient": "linear", "x1": 0, "y1": 0, "x2": 0, "y2": 1, "stops": [{"offset": 0, "color": "#fde3e3"}, {"offset": 0.5, "color": "#ef3c3c"}, {"offset": 1, "color": "#fde3e3"}]}},
                     "value": {"gradient": "linear", "x1": 0, "y1": 0, "x2": 0, "y2": 1, "stops": [{"offset": 0, "color": "#d5e5f4"}, {"offset": 0.5, "color": "#1f62a6"}, {"offset": 1, "color": "#d5e5f4"}]}},
           "stroke": {"condition": {"test": "datum.group === 'M1'", "value": "#ee3d3d"}, "value": "#2a78b8"}}},
        {"data": {"name": "stats"}, "transform": [{"filter": "datum.panel === 'c' && datum.part === 'median'"}],
         "mark": {"type": "tick", "orient": "horizontal", "size": 52, "thickness": 1.5, "xOffset": -34.5}, "encoding": {"color": {"value": "#f4f8fc"}}},
        {"data": {"name": "stats"}, "transform": [{"filter": "datum.panel === 'c' && datum.part === 'mean'"}],
         "mark": {"type": "point", "shape": "square", "size": 14, "filled": false, "strokeWidth": 0.8, "xOffset": -34.5, "opacity": 0.8}, "encoding": {"color": {"value": "#e6eef7"}}},
        {"data": {"name": "pts"}, "transform": [{"filter": "datum.panel === 'c'"}],
         "mark": {"type": "point", "shape": "diamond", "filled": true, "size": 22, "opacity": 1},
         "encoding": {"xOffset": {"field": "jit", "type": "quantitative", "scale": {"domain": [0, 1], "range": [88, 124]}}}},
        {"data": {"name": "curve"}, "transform": [{"filter": "datum.panel === 'c'"}],
         "mark": {"type": "line", "strokeWidth": 1.5},
         "encoding": {"xOffset": {"field": "d", "type": "quantitative", "scale": {"domain": [0, 1], "range": [88, 128]}}, "order": {"field": "v", "type": "quantitative"}}}
      ]
    },
    {
      "width": 338, "height": 241,
      "title": {"text": "(d)"},
      "encoding": {
        "x": {"field": "group", "type": "nominal", "scale": {"domain": ["Pristine", "M1"], "range": [0, 345], "paddingInner": 0, "paddingOuter": 0}},
        "y": {"field": "v", "type": "quantitative",
              "scale": {"domain": [13.465, 22.475]},
              "axis": {"title": "PCE (%)", "values": [14, 15, 16, 17, 18, 19, 20, 21, 22], "labelPadding": 4, "titlePadding": 2,
                       "labelExpr": "datum.value % 2 === 0 ? datum.label : ''",
                       "tickSize": {"condition": {"test": "datum.value % 2 !== 0", "value": 3}, "value": 5}}},
        "color": {"field": "group", "type": "nominal", "scale": {"domain": ["Pristine", "M1"], "range": ["#2a78b8", "#ee3d3d"]}}
      },
      "resolve": {"scale": {"xOffset": "independent"}},
      "layer": [
        {"data": {"name": "stats"}, "transform": [{"filter": "datum.panel === 'd' && datum.part === 'whisker'"}],
         "mark": {"type": "rule", "strokeWidth": 1.5, "xOffset": -34.5}, "encoding": {"y2": {"field": "v2"}}},
        {"data": {"name": "stats"}, "transform": [{"filter": "datum.panel === 'd' && datum.part === 'cap'"}],
         "mark": {"type": "tick", "orient": "horizontal", "size": 22, "thickness": 1.5, "xOffset": -34.5}},
        {"data": {"name": "stats"}, "transform": [{"filter": "datum.panel === 'd' && datum.part === 'box'"}],
         "mark": {"type": "bar", "width": 53, "xOffset": -34.5, "strokeWidth": 1.3},
         "encoding": {
           "y2": {"field": "v2"},
           "color": {"condition": {"test": "datum.group === 'M1'", "value": {"gradient": "linear", "x1": 0, "y1": 0, "x2": 0, "y2": 1, "stops": [{"offset": 0, "color": "#fde3e3"}, {"offset": 0.5, "color": "#ef3c3c"}, {"offset": 1, "color": "#fde3e3"}]}},
                     "value": {"gradient": "linear", "x1": 0, "y1": 0, "x2": 0, "y2": 1, "stops": [{"offset": 0, "color": "#d5e5f4"}, {"offset": 0.5, "color": "#1f62a6"}, {"offset": 1, "color": "#d5e5f4"}]}},
           "stroke": {"condition": {"test": "datum.group === 'M1'", "value": "#ee3d3d"}, "value": "#2a78b8"}}},
        {"data": {"name": "stats"}, "transform": [{"filter": "datum.panel === 'd' && datum.part === 'median'"}],
         "mark": {"type": "tick", "orient": "horizontal", "size": 52, "thickness": 1.5, "xOffset": -34.5}, "encoding": {"color": {"value": "#f4f8fc"}}},
        {"data": {"name": "stats"}, "transform": [{"filter": "datum.panel === 'd' && datum.part === 'mean'"}],
         "mark": {"type": "point", "shape": "square", "size": 14, "filled": false, "strokeWidth": 0.8, "xOffset": -34.5, "opacity": 0.8}, "encoding": {"color": {"value": "#e6eef7"}}},
        {"data": {"name": "pts"}, "transform": [{"filter": "datum.panel === 'd'"}],
         "mark": {"type": "point", "shape": "diamond", "filled": true, "size": 22, "opacity": 1},
         "encoding": {"xOffset": {"field": "jit", "type": "quantitative", "scale": {"domain": [0, 1], "range": [88, 124]}}}},
        {"data": {"name": "curve"}, "transform": [{"filter": "datum.panel === 'd'"}],
         "mark": {"type": "line", "strokeWidth": 1.5},
         "encoding": {"xOffset": {"field": "d", "type": "quantitative", "scale": {"domain": [0, 1], "range": [88, 128]}}, "order": {"field": "v", "type": "quantitative"}}}
      ]
    }
  ]
}
